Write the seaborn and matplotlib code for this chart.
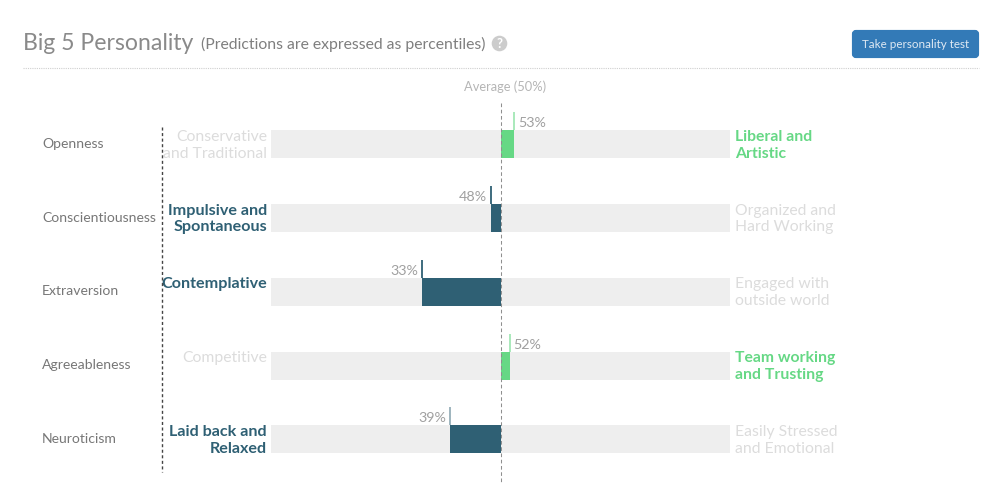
import matplotlib
matplotlib.use("Agg")
import matplotlib.pyplot as plt
from matplotlib.patches import FancyBboxPatch, Circle
from matplotlib.lines import Line2D
import seaborn as sns
import pandas as pd

traits = ["Openness", "Conscientiousness", "Extraversion", "Agreeableness", "Neuroticism"]
percentiles = [53, 48, 33, 52, 39]
low_labels = ["Conservative\nand Traditional", "Impulsive and\nSpontaneous", "Contemplative",
              "Competitive", "Laid back and\nRelaxed"]
high_labels = ["Liberal and\nArtistic", "Organized and\nHard Working", "Engaged with\noutside world",
               "Team working\nand Trusting", "Easily Stressed\nand Emotional"]
tick_alpha = [0.6, 1.0, 1.0, 0.6, 0.5]

GREEN, TEAL, TRACK = "#66d885", "#2f6074", "#eeeeee"
DIM, GREY = "#dcdcdc", "#777777"

sns.set_theme(style="white")
plt.rcParams["font.family"] = ["Lato", "DejaVu Sans"]

W, H = 1000, 499
fig = plt.figure(figsize=(W / 100, H / 100), dpi=100)

# page overlay in pixel coordinates
pg = fig.add_axes([0, 0, 1, 1], zorder=0)
pg.set_xlim(0, W); pg.set_ylim(H, 0); pg.axis("off")

# chart axes: x = percentile minus 50
top, bottom, left, right = 107.5, 476.3, 271, 730
ax = fig.add_axes([left / W, 1 - bottom / H, (right - left) / W, (bottom - top) / H], zorder=1)
ax.patch.set_alpha(0)

df = pd.DataFrame({"trait": traits, "pct": percentiles})
df["delta"] = df["pct"] - 50
df["side"] = ["high" if d > 0 else "low" for d in df["delta"]]
df["neg"] = -50
df["pos"] = 50

bw = 0.38
kw = dict(y="trait", order=traits, width=bw, ax=ax, linewidth=0, saturation=1)
sns.barplot(data=df, x="neg", color=TRACK, **kw)
sns.barplot(data=df, x="pos", color=TRACK, **kw)
sns.barplot(data=df, x="delta", hue="side", dodge=False, legend=False,
            palette={"high": GREEN, "low": TEAL}, **kw)
ax.set_xlim(-50, 50)
ax.set_ylim(len(traits) - 0.5, -0.5)
ax.axis("off")

# guide lines
fig.add_artist(Line2D([500.7 / W, 500.7 / W], [1 - 103 / H, 1 - 484 / H], color="#8f8f8f", lw=0.75,
                      ls=(0, (3.5, 2.5)), zorder=6))
fig.add_artist(Line2D([162.2 / W, 162.2 / W], [1 - 127 / H, 1 - 472 / H], color="#444444", lw=1.0,
                      ls=(0, (2.2, 1.8)), zorder=6))

row_h = (bottom - top) / len(traits)
for i, (tr, p) in enumerate(zip(traits, percentiles)):
    d = p - 50
    high = d > 0
    c = GREEN if high else TEAL
    # tick above the bar end
    ax.vlines(d, i - bw / 2 - 18 / row_h, i - bw / 2, color=c, lw=1.3, alpha=tick_alpha[i], zorder=5)
    yc = top + row_h * (i + 0.5)
    bar_top = yc - 14
    px = left + (right - left) * p / 100
    pg.text(px + (4 if high else -4), bar_top - 3, f"{p}%", ha="left" if high else "right",
            va="baseline", fontsize=10.3, color="#a0a0a0")
    pg.text(42, yc - 0.5, tr, ha="left", va="center", fontsize=10.1, color=GREY)
    for k, line in enumerate(low_labels[i].split("\n")):
        on = not high
        pg.text(267, bar_top + 10.5 + 16.8 * k, line, ha="right", va="baseline",
                fontsize=11.6 if on else 11.3,
                color=TEAL if on else DIM, fontweight="bold" if on else "normal")
    for k, line in enumerate(high_labels[i].split("\n")):
        on = high
        pg.text(735, bar_top + 10.5 + 16.8 * k, line, ha="left", va="baseline",
                fontsize=11.3,
                color=GREEN if on else DIM, fontweight="bold" if on else "normal")

# header
pg.text(23, 50, "Big 5 Personality", fontsize=16.6, color="#8a8a8a", va="baseline", ha="left")
pg.text(201, 49, "(Predictions are expressed as percentiles)", fontsize=11.3, color="#7f7f7f",
        va="baseline", ha="left")
pg.add_patch(Circle((499.5, 43.5), 7.8, color="#cccccc", lw=0))
pg.text(499.5, 44, "?", fontsize=9.5, color="white", fontweight="bold", ha="center", va="center")
pg.add_patch(FancyBboxPatch((854, 32), 123, 24, boxstyle="round,pad=0,rounding_size=2",
                            mutation_aspect=1, facecolor="#337ab7", edgecolor="#337ab7", lw=3))
pg.text(915.5, 44, "Take personality test", fontsize=8.4, color="#dfe9f3", ha="center", va="center")
pg.add_line(Line2D([23, 979], [67.5, 67.5], color="#cfcfcf", lw=0.8, ls=(0, (1, 1))))
pg.text(505.5, 87, "Average (50%)", fontsize=9.3, color="#b5b5b5", ha="center", va="center")

fig.savefig("out.png", dpi=100)
